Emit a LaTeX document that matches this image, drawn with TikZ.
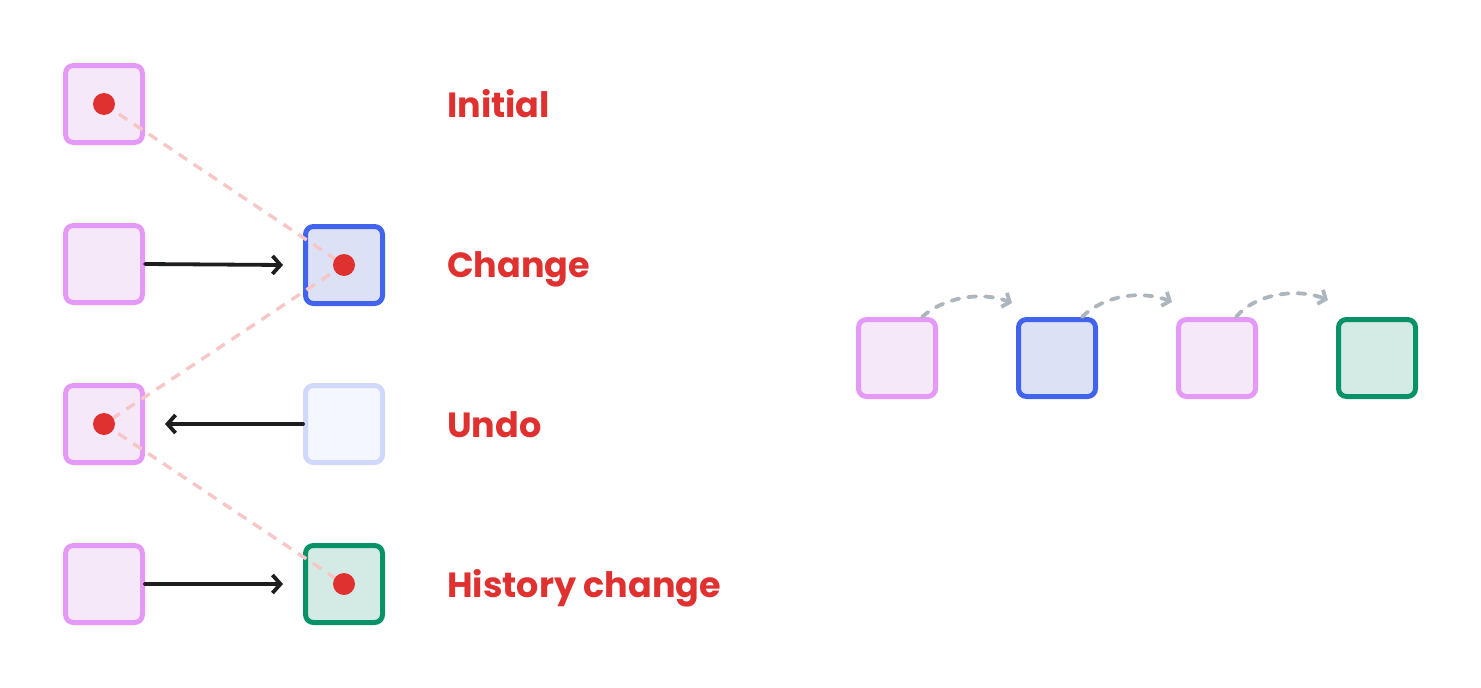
\documentclass[tikz,border=0pt]{standalone}
\usepackage{fontspec}
\setmainfont{Poppins}
\usetikzlibrary{arrows.meta}
\definecolor{pinkS}{HTML}{E599F7}
\definecolor{pinkF}{HTML}{F5E8F9}
\definecolor{blueS}{HTML}{4263EB}
\definecolor{blueF}{HTML}{DCE1F6}
\definecolor{greenS}{HTML}{099268}
\definecolor{greenF}{HTML}{D3EBE4}
\definecolor{fadeS}{HTML}{D0D9FB}
\definecolor{fadeF}{HTML}{F5F7FE}
\definecolor{redT}{HTML}{E03131}
\definecolor{dashR}{HTML}{F7C6C6}
\definecolor{grayA}{HTML}{ADB5BD}
\definecolor{inkA}{HTML}{1E1E1E}
\tikzset{
  box/.style={draw, line width=5pt, rounded corners=8pt, minimum width=77pt, minimum height=77pt, inner sep=0pt},
  pinkbox/.style={box, draw=pinkS, fill=pinkF},
  bluebox/.style={box, draw=blueS, fill=blueF},
  greenbox/.style={box, draw=greenS, fill=greenF},
  fadebox/.style={box, draw=fadeS, fill=fadeF},
  dot/.style={circle, fill=redT, minimum size=22pt, inner sep=0pt},
  lbl/.style={anchor=base west, text=redT, font=\fontsize{35}{40}\selectfont\bfseries, inner sep=0pt},
  trail/.style={draw=dashR, line width=3.4pt, dash pattern=on 10pt off 8pt},
  move/.style={draw=inkA, line width=3.8pt, line cap=round, -{Straight Barb[length=8pt,width=18pt,line width=3.8pt]}},
  hop/.style={draw=grayA, line width=3.8pt, line cap=round, dash pattern=on 8pt off 9pt, -{Straight Barb[length=6pt,width=15pt,line width=3.8pt]}}
}
\begin{document}
\begin{tikzpicture}[x=1pt,y=-1pt]
\useasboundingbox (0,0) rectangle (1481,688);
% left column
\node[pinkbox] (l1) at (104,104) {};
\node[pinkbox] (l2) at (104,264) {};
\node[pinkbox] (l3) at (104,424) {};
\node[pinkbox] (l4) at (104,584) {};
\node[bluebox] (r2) at (344,265) {};
\node[fadebox] (r3) at (344,424) {};
\node[greenbox] (r4) at (344,584) {};
% arrows
\draw[move] (l2.east) -- ([xshift=-20pt]r2.west);
\draw[move] (r3.west) -- ([xshift=20pt]l3.east);
\draw[move] (l4.east) -- ([xshift=-20pt]r4.west);
% dots coordinates
\coordinate (c1) at (l1.center);
\coordinate (c2) at (r2.center);
\coordinate (c3) at (l3.center);
\coordinate (c4) at (r4.center);
\draw[trail] (c1) -- (c2) -- (c3) -- (c4);
\node[dot] (d1) at (c1) {};
\node[dot] (d2) at (c2) {};
\node[dot] (d3) at (c3) {};
\node[dot] (d4) at (c4) {};
% labels
\node[lbl] (t1) at (447,117) {Initial};
\node[lbl] (t2) at (447,277) {Change};
\node[lbl] (t3) at (447,437) {Undo};
\node[lbl] (t4) at (447,597) {History change};
% right row
\node[pinkbox] (h1) at (897,358) {};
\node[bluebox] (h2) at (1057,358) {};
\node[pinkbox] (h3) at (1217,358) {};
\node[greenbox] (h4) at (1377,358) {};
\draw[hop] ([xshift=-16pt]h1.north east) .. controls +(22,-20) and +(-30,-12) .. ([xshift=-4pt,yshift=14pt]h2.north west);
\draw[hop] ([xshift=-16pt]h2.north east) .. controls +(22,-22) and +(-30,-12) .. ([xshift=-4pt,yshift=15pt]h3.north west);
\draw[hop] ([xshift=-22pt]h3.north east) .. controls +(20,-24) and +(-30,-12) .. ([xshift=-8pt,yshift=17pt]h4.north west);
\end{tikzpicture}
\end{document}
